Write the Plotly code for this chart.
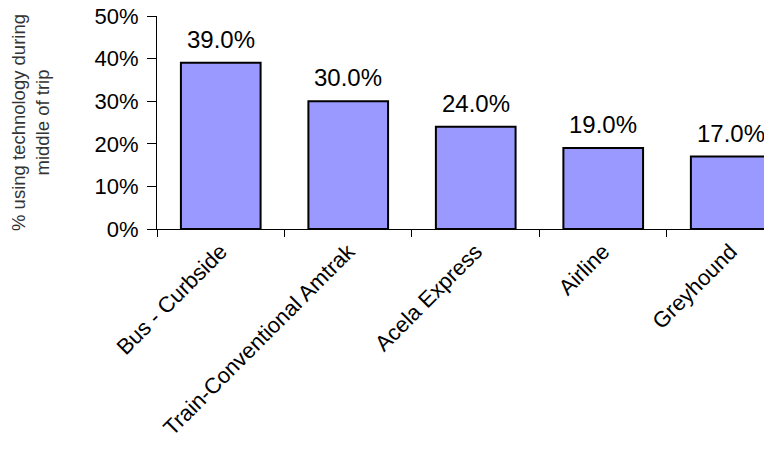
import plotly.graph_objects as go

categories = ["Bus - Curbside", "Train-Conventional Amtrak", "Acela Express", "Airline", "Greyhound"]
values = [39.0, 30.0, 24.0, 19.0, 17.0]
y_ticks = [0, 10, 20, 30, 40, 50]
y_title = "% using technology during<br>middle of trip"

FONT = "Liberation Sans, Arial, sans-serif"

fig = go.Figure()
fig.add_trace(go.Bar(
    x=categories,
    y=values,
    width=0.625,
    marker=dict(color="#9999FF", line=dict(color="black", width=2)),
    showlegend=False,
    hoverinfo="x+y",
))

for c, v in zip(categories, values):
    fig.add_annotation(
        x=c, y=v, text=f"{v:.1f}%", showarrow=False,
        yanchor="bottom", yshift=8,
        font=dict(family=FONT, size=24, color="black"),
    )

fig.update_layout(
    width=764, height=457,
    margin=dict(l=157, r=0, t=16, b=228, autoexpand=False),
    paper_bgcolor="white", plot_bgcolor="white",
    bargap=0.375,
    font=dict(family=FONT, color="black"),
)

fig.update_xaxes(
    type="category",
    range=[-0.5, 4.261],
    tickson="boundaries",
    ticks="outside", ticklen=7, tickcolor="black", tickwidth=1,
    showline=True, linecolor="black", linewidth=1,
    showgrid=False, zeroline=False,
    tickangle=-45,
    tickfont=dict(family=FONT, size=22, color="black"),
    automargin=False,
)

fig.update_yaxes(
    range=[0, 50],
    tickvals=y_ticks,
    ticktext=[f"{t}%" for t in y_ticks],
    ticks="outside", ticklen=9, tickcolor="black", tickwidth=1,
    showline=True, linecolor="black", linewidth=1,
    showgrid=False, zeroline=False,
    tickfont=dict(family=FONT, size=22, color="black"),
    ticklabelstandoff=4,
    title=dict(text=y_title, standoff=40,
               font=dict(family=FONT, size=18.5, color="#333333")),
    automargin=False,
)

fig.write_html("out.html")
